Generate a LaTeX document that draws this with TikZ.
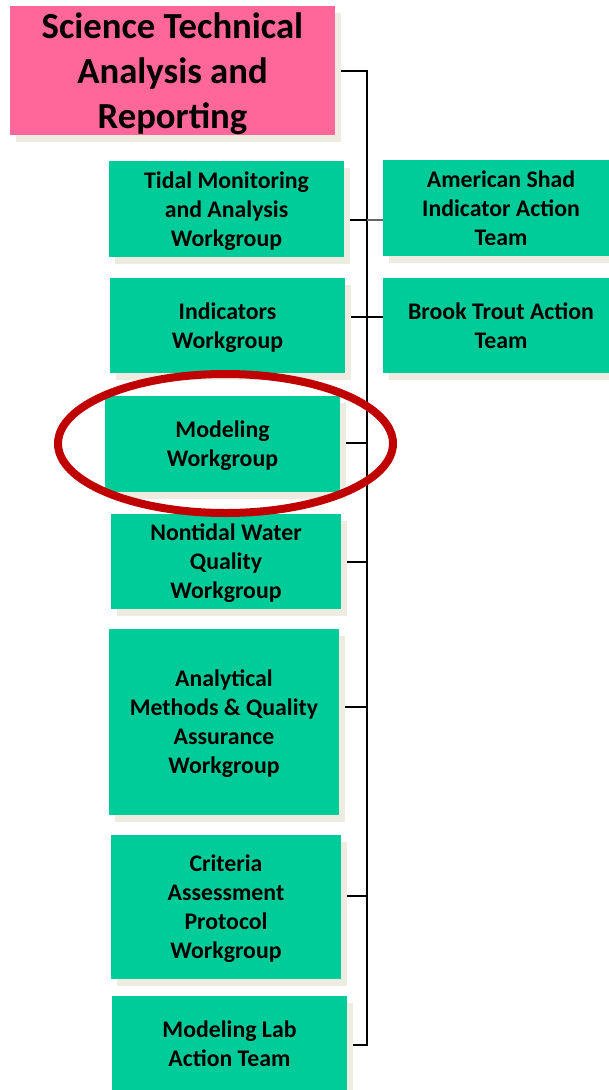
\documentclass[tikz,border=0pt]{standalone}
\usepackage{fontspec}
\setmainfont{Carlito}
\usetikzlibrary{shadows,backgrounds,shapes.geometric}
\definecolor{teamgreen}{HTML}{00CC99}
\definecolor{titlepink}{HTML}{FF6699}
\definecolor{shadowtan}{HTML}{EEECE1}
\definecolor{ringred}{HTML}{C00000}

\begin{document}
\begin{tikzpicture}[x=1pt, y=-1pt,
		box/.style={fill=teamgreen, inner sep=0pt, align=center, text depth=0pt, font=\bfseries\fontsize{23.8}{29}\selectfont, minimum width=235pt, minimum height=96pt, general shadow={fill=shadowtan, shadow xshift=6pt, shadow yshift=-7pt}},
		wire/.style={line width=2pt, black}]
		\useasboundingbox (0,0) rectangle (609,1090);
		
		\node[box, fill=titlepink, minimum width=325pt, minimum height=129pt, font=\bfseries\fontsize{36.7}{45}\selectfont] (sta) at(172.5, 70.5) {Science Technical\\Analysis and\\Reporting};
		\node[box] (tidal) at(226.5, 209) {Tidal Monitoring\\and Analysis\\Workgroup};
		\node[box, minimum height=95pt] (indicators) at(227.5, 325.5) {Indicators\\Workgroup};
		\node[box] (modeling) at(222.5, 444) {Modeling\\Workgroup};
		\node[box, minimum width=230pt, minimum height=95pt] (nontidal) at(226, 561.5) {Nontidal Water\\Quality\\Workgroup};
		\node[box, minimum width=230pt, minimum height=186pt] (analytical) at(224, 722) {Analytical\\Methods \& Quality\\Assurance\\Workgroup};
		\node[box, minimum width=230pt, minimum height=144pt] (criteria) at(226, 907) {Criteria\\Assessment\\Protocol\\Workgroup};
		\node[box] (modlab) at(229.5, 1044) {Modeling Lab\\Action Team};
		\node[box, minimum width=236pt] (shad) at(501, 208) {American Shad\\Indicator Action\\Team};
		\node[box, minimum width=236pt, minimum height=95pt] (trout) at(501, 325.5) {Brook Trout Action\\Team};
		
		\coordinate (top) at(367, 71);
		\coordinate (bot) at(367, 1045);
		\coordinate (j1) at(367, 220);
		\coordinate (j2) at(367, 317);
		\coordinate (j3) at(367, 443);
		\coordinate (j4) at(367, 562);
		\coordinate (j5) at(367, 707);
		\coordinate (j6) at(367, 896);
		
		\begin{scope}[on background layer]
			\draw[wire] (sta.east |- top) -- (top) -- (bot) -- (modlab.east |- bot);
			\draw[wire] (tidal.east |- j1) -- (j1);
			\draw[wire, black!60] (j1) -- (shad.west |- j1);
			\draw[wire] (indicators.east |- j2) -- (trout.west |- j2);
			\draw[wire] (modeling.east |- j3) -- (j3);
			\draw[wire] (nontidal.east |- j4) -- (j4);
			\draw[wire] (analytical.east |- j5) -- (j5);
			\draw[wire] (criteria.east |- j6) -- (j6);
		\end{scope}
		
		\node[draw=ringred, line width=8pt, ellipse, inner sep=0pt, minimum width=335pt, minimum height=139pt] (ring) at(225.5, 443.5) {};
	\end{tikzpicture}
\end{document}
